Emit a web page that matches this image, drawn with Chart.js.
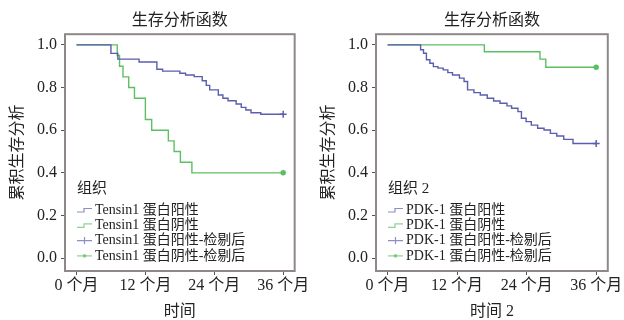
<!DOCTYPE html>
<html>
<head>
<meta charset="utf-8">
<script src="https://cdn.jsdelivr.net/npm/chart.js@4.4.1/dist/chart.umd.min.js"></script>
<style>
  body { margin: 0; background: #fff; }
  canvas { position: absolute; top: 0; }
  #left { left: 0; }
  #right { left: 311px; }
</style>
</head>
<body>
<canvas id="left" width="311" height="320"></canvas>
<canvas id="right" width="313" height="320"></canvas>
<script>
// axes
const xTicks = [0, 12, 24, 36];
const xTickLabels = ['0 个月', '12 个月', '24 个月', '36 个月'];
const yTicks = [0, 0.2, 0.4, 0.6, 0.8, 1.0];

// Tensin1 - survival steps (month, cumulative survival)
const tensinPosTime = [0, 6.0, 7.2, 10.9, 14.0, 15.0, 18.0, 19.0, 20.5, 21.9, 22.6, 23.2, 24.7, 25.5, 26.4, 27.8, 28.7, 29.5, 30.4, 32.1, 36];
const tensinPosSurv = [1, 0.96, 0.933, 0.92, 0.886, 0.877, 0.867, 0.859, 0.851, 0.832, 0.81, 0.789, 0.765, 0.75, 0.738, 0.723, 0.707, 0.695, 0.682, 0.675, 0.675];
const tensinNegTime = [0, 7.1, 7.5, 8.1, 9.1, 10.1, 12.0, 13.1, 16.0, 17.0, 18.1, 20.1, 36];
const tensinNegSurv = [1, 0.95, 0.9, 0.85, 0.8, 0.75, 0.65, 0.6, 0.55, 0.5, 0.45, 0.4, 0.4];
const tensinPosCensorTime = [36];
const tensinPosCensorSurv = [0.675];
const tensinNegCensorTime = [36];
const tensinNegCensorSurv = [0.4];

// PDK-1
const pdkPosTime = [0, 5.7, 6.2, 6.7, 7.3, 7.9, 8.7, 9.6, 10.4, 11.2, 12.4, 13.2, 13.8, 14.9, 16.0, 17.2, 18.3, 19.4, 20.6, 21.4, 22.5, 23.1, 23.9, 24.8, 25.9, 27.0, 28.1, 29.2, 30.4, 32.0, 36];
const pdkPosSurv = [1, 0.977, 0.961, 0.93, 0.914, 0.898, 0.891, 0.883, 0.87, 0.859, 0.844, 0.828, 0.789, 0.776, 0.765, 0.75, 0.737, 0.726, 0.714, 0.703, 0.687, 0.656, 0.64, 0.624, 0.609, 0.601, 0.585, 0.573, 0.557, 0.538, 0.538];
const pdkNegTime = [0, 16.7, 26.3, 27.3, 36];
const pdkNegSurv = [1, 0.968, 0.933, 0.895, 0.895];
const pdkPosCensorTime = [36];
const pdkPosCensorSurv = [0.538];
const pdkNegCensorTime = [36];
const pdkNegCensorSurv = [0.895];

const BLUE = '#5a5eaf';
const GREEN = '#5cbf62';
const FONT = '"Liberation Serif", "Noto Sans CJK SC", serif';

function pts(times, surv) {
  return times.map((t, i) => ({ x: t, y: surv[i] }));
}

const framePlugin = {
  id: 'frame',
  beforeDatasetsDraw(chart) {
    const a = chart.chartArea, ctx = chart.ctx;
    ctx.save();
    ctx.strokeStyle = '#8f8888';
    ctx.lineWidth = 2;
    ctx.strokeRect(a.left, a.top, a.right - a.left, a.bottom - a.top);
    ctx.restore();
  }
};

const legendPlugin = {
  id: 'kmLegend',
  afterDraw(chart, args, opts) {
    const a = chart.chartArea, ctx = chart.ctx;
    const x = a.left + 12;
    ctx.save();
    ctx.fillStyle = '#222';
    ctx.textBaseline = 'middle';
    ctx.font = '15px ' + FONT;
    ctx.fillText(opts.title, x, a.bottom - 82);
    ctx.font = '14px ' + FONT;
    chart.data.datasets.forEach((ds, i) => {
      const y = a.bottom - 61 + i * 15.3;
      ctx.strokeStyle = ds.borderColor;
      ctx.fillStyle = ds.borderColor;
      ctx.globalAlpha = 0.7;
      ctx.lineWidth = 1.2;
      ctx.beginPath();
      if (ds.showLine === false) {
        ctx.moveTo(x, y);
        ctx.lineTo(x + 15, y);
        if (ds.pointStyle === 'cross') {
          ctx.moveTo(x + 7.5, y - 3.5);
          ctx.lineTo(x + 7.5, y + 3.5);
        }
        ctx.stroke();
        if (ds.pointStyle === 'circle') {
          ctx.beginPath();
          ctx.arc(x + 7.5, y, 1.8, 0, Math.PI * 2);
          ctx.fill();
        }
      } else {
        ctx.moveTo(x, y + 2);
        ctx.lineTo(x + 7, y + 2);
        ctx.lineTo(x + 7, y - 1.5);
        ctx.lineTo(x + 15, y - 1.5);
        ctx.stroke();
      }
      ctx.globalAlpha = 1;
      ctx.fillStyle = '#222';
      ctx.fillText(ds.label, x + 18, y);
    });
    ctx.restore();
  }
};

function makeChart(id, padRight, title, xTitle, legendTitle, datasets) {
  return new Chart(document.getElementById(id), {
    type: 'line',
    data: { datasets: datasets },
    options: {
      responsive: false,
      animation: false,
      layout: { padding: { left: 0, right: padRight, top: 0, bottom: 0 } },
      plugins: {
        legend: { display: false },
        tooltip: { enabled: false },
        title: {
          display: true,
          text: title,
          fullSize: false,
          color: '#222',
          font: { family: FONT, size: 16, weight: 'normal' },
          padding: { top: 11, bottom: 4 }
        },
        kmLegend: { title: legendTitle }
      },
      scales: {
        x: {
          type: 'linear',
          min: -2,
          max: 38,
          afterFit(s) { s.height = 49; },
          afterBuildTicks(s) { s.ticks = xTicks.map(v => ({ value: v })); },
          grid: { drawOnChartArea: false, tickLength: 4, color: '#555', tickWidth: 1 },
          border: { display: false },
          ticks: {
            padding: 1,
            maxRotation: 0,
            autoSkip: false,
            color: '#222',
            font: { family: FONT, size: 16 },
            callback: v => xTickLabels[xTicks.indexOf(v)]
          },
          title: {
            display: true,
            text: xTitle,
            color: '#222',
            font: { family: FONT, size: 16, lineHeight: 1 },
            padding: 0
          }
        },
        y: {
          type: 'linear',
          min: -0.06,
          max: 1.05,
          afterFit(s) { s.width = 65; },
          afterBuildTicks(s) { s.ticks = yTicks.map(v => ({ value: v })); },
          grid: { drawOnChartArea: false, tickLength: 4, color: '#555', tickWidth: 1 },
          border: { display: false },
          ticks: {
            padding: 4,
            color: '#222',
            font: { family: FONT, size: 16 },
            callback: v => v.toFixed(1)
          },
          title: {
            display: true,
            text: '累积生存分析',
            color: '#222',
            font: { family: FONT, size: 16 },
            padding: { top: 8, bottom: 0 }
          }
        }
      }
    },
    plugins: [framePlugin, legendPlugin]
  });
}

function curveSet(label, color, times, surv) {
  return { label, data: pts(times, surv), borderColor: color, backgroundColor: color,
    borderWidth: 1.4, stepped: true, pointRadius: 0, fill: false };
}
function censorSet(label, color, style, radius, times, surv) {
  return { label, data: pts(times, surv), borderColor: color, backgroundColor: color,
    showLine: false, pointStyle: style, pointRadius: radius, borderWidth: 1.5 };
}

makeChart('left', 9, '生存分析函数', '时间', '组织', [
  curveSet('Tensin1 蛋白阳性', BLUE, tensinPosTime, tensinPosSurv),
  curveSet('Tensin1 蛋白阴性', GREEN, tensinNegTime, tensinNegSurv),
  censorSet('Tensin1 蛋白阳性-检剔后', BLUE, 'cross', 3.5, tensinPosCensorTime, tensinPosCensorSurv),
  censorSet('Tensin1 蛋白阴性-检剔后', GREEN, 'circle', 2, tensinNegCensorTime, tensinNegCensorSurv)
]);

makeChart('right', 11, '生存分析函数', '时间 2', '组织 2', [
  curveSet('PDK-1 蛋白阳性', BLUE, pdkPosTime, pdkPosSurv),
  curveSet('PDK-1 蛋白阴性', GREEN, pdkNegTime, pdkNegSurv),
  censorSet('PDK-1 蛋白阳性-检剔后', BLUE, 'cross', 3.5, pdkPosCensorTime, pdkPosCensorSurv),
  censorSet('PDK-1 蛋白阴性-检剔后', GREEN, 'circle', 2, pdkNegCensorTime, pdkNegCensorSurv)
]);
</script>
</body>
</html>
